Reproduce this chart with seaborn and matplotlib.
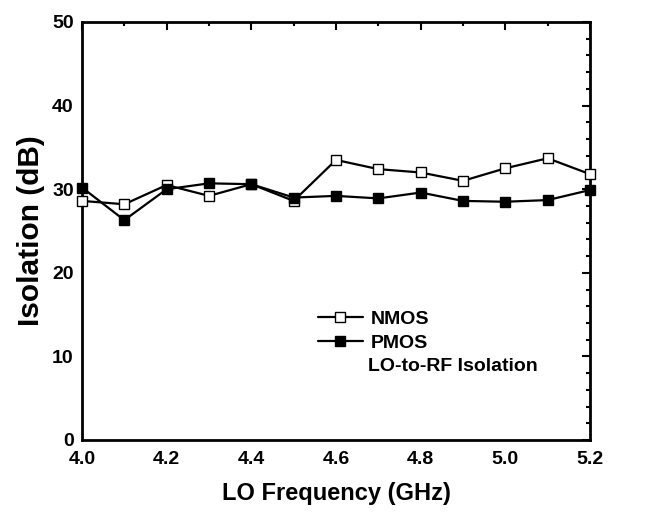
import matplotlib
matplotlib.use("Agg")
import matplotlib.pyplot as plt
from matplotlib.ticker import MultipleLocator, FormatStrFormatter
import seaborn as sns
import pandas as pd

freq = [4.0, 4.1, 4.2, 4.3, 4.4, 4.5, 4.6, 4.7, 4.8, 4.9, 5.0, 5.1, 5.2]
nmos = [28.6, 28.2, 30.5, 29.2, 30.6, 28.6, 33.5, 32.4, 32.0, 31.0, 32.5, 33.7, 31.8]
pmos = [30.2, 26.3, 30.0, 30.7, 30.6, 29.0, 29.2, 28.9, 29.6, 28.6, 28.5, 28.7, 29.9]
series_names = ["NMOS", "PMOS"]
note = "LO-to-RF Isolation"

sns.set_style("white")
plt.rcParams["font.family"] = ["Liberation Sans", "DejaVu Sans"]
plt.rcParams["font.weight"] = "bold"
for k in ["text.color", "axes.labelcolor", "xtick.color", "ytick.color", "axes.edgecolor"]:
    plt.rcParams[k] = "black"

df = pd.DataFrame({"freq": freq, "NMOS": nmos, "PMOS": pmos})

fig = plt.figure(figsize=(6.68, 5.16), dpi=100)
ax = fig.add_axes([82/668, 1-440/516, 508/668, 418/516])

sns.lineplot(data=df, x="freq", y="NMOS", ax=ax, color="black", lw=1.6,
             marker="s", markersize=7.5, markerfacecolor="white",
             markeredgecolor="black", markeredgewidth=1.0, label=series_names[0],
             clip_on=False, zorder=3)
sns.lineplot(data=df, x="freq", y="PMOS", ax=ax, color="black", lw=1.6,
             marker="s", markersize=7.5, markerfacecolor="black",
             markeredgecolor="black", markeredgewidth=1.0, label=series_names[1],
             clip_on=False, zorder=4)

ax.set_xlim(4.0, 5.2)
ax.set_ylim(0, 50)
ax.xaxis.set_major_locator(MultipleLocator(0.2))
ax.xaxis.set_minor_locator(MultipleLocator(0.1))
ax.yaxis.set_major_locator(MultipleLocator(10))
ax.yaxis.set_minor_locator(MultipleLocator(2))
ax.xaxis.set_major_formatter(FormatStrFormatter("%.1f"))

ax.tick_params(which="both", direction="in", top=True, right=True,
               width=1.5, color="black")
ax.tick_params(which="major", length=6, labelsize=14)
ax.tick_params(axis="x", which="major", pad=8)
ax.tick_params(axis="y", which="major", pad=6)
ax.tick_params(which="minor", length=3)
for lab in ax.get_xticklabels() + ax.get_yticklabels():
    lab.set_fontweight("bold")
for sp in ax.spines.values():
    sp.set_linewidth(2.0)
    sp.set_color("black")

ax.set_xlabel("LO Frequency (GHz)", fontsize=17, fontweight="bold", labelpad=10)
ax.set_ylabel("Isolation (dB)", fontsize=21.5, fontweight="bold", labelpad=5)

leg = ax.legend(loc="upper left", bbox_to_anchor=((318-82)/508, 0.311),
                frameon=False, borderpad=0, borderaxespad=0,
                handlelength=2.3, handletextpad=0.4, labelspacing=0.33,
                prop={"size": 14, "weight": "bold"})
ax.text((368-82)/508, (440-366.7)/418, note, transform=ax.transAxes,
        fontsize=14, fontweight="bold", va="center", ha="left")

fig.savefig("out.png", dpi=100)
